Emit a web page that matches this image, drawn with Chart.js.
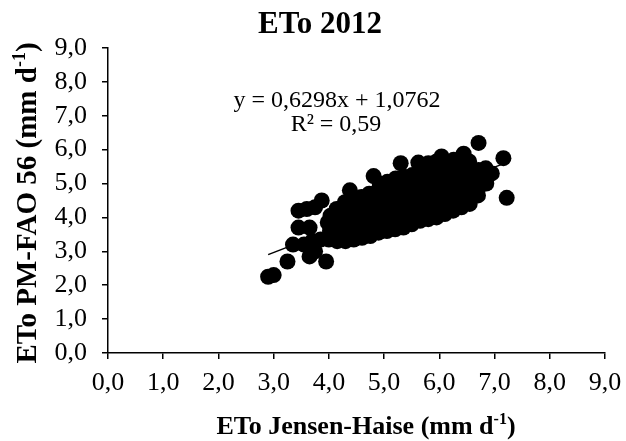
<!DOCTYPE html>
<html><head><meta charset="utf-8">
<script src="https://cdn.jsdelivr.net/npm/chart.js@4/dist/chart.umd.min.js"></script>
<style>html,body{margin:0;padding:0;background:#fff}</style></head>
<body>
<canvas id="c" width="626" height="441"></canvas>
<script>
// ETo Jensen-Haise (x) and ETo PM-FAO 56 (y)
const jhValues = [
 2.9,3.0,3.25,3.65,3.95,3.35,3.55,3.75,3.7,3.85,3.45,3.65,3.45,3.6,3.75,3.87,4.38,4.81,5.3,5.62,6.04,6.44,6.71,7.16,7.22,6.95,
 4.0,4.02,3.98,4.03,
 4.15,4.13,4.17,4.15,4.14,
 4.3,4.32,4.28,4.31,4.3,4.29,
 4.45,4.47,4.44,4.46,4.45,4.43,
 4.6,4.62,4.58,4.61,4.6,4.59,
 4.75,4.77,4.74,4.76,4.75,4.73,
 4.9,4.92,4.88,4.91,4.9,4.89,4.92,
 5.05,5.07,5.03,5.06,5.05,5.04,5.06,
 5.2,5.22,5.18,5.21,5.2,5.19,5.21,
 5.35,5.37,5.33,5.36,5.35,5.34,5.36,
 5.5,5.52,5.48,5.51,5.5,5.49,5.51,
 5.65,5.67,5.63,5.66,5.65,5.64,5.66,
 5.8,5.82,5.78,5.81,5.8,5.79,5.81,5.8,
 5.95,5.97,5.93,5.96,5.95,5.94,5.96,5.95,
 6.1,6.12,6.08,6.11,6.1,6.09,6.11,
 6.25,6.27,6.23,6.26,6.25,6.24,6.26,
 6.4,6.42,6.38,6.41,6.4,6.39,
 6.55,6.57,6.53,6.56,6.55,6.54,
 6.7,6.72,6.68,6.71,
 6.85,6.86,6.84
];
const pmValues = [
 2.25,2.3,2.7,2.85,2.7,3.2,3.2,3.0,3.3,3.35,3.7,3.7,4.2,4.25,4.3,4.5,4.8,5.22,5.6,5.62,5.8,5.88,6.2,5.75,4.58,5.3,
 3.35,3.6,3.85,4.05,
 3.3,3.55,3.8,4.05,4.25,
 3.3,3.55,3.8,4.05,4.3,4.45,
 3.35,3.6,3.85,4.1,4.35,4.55,
 3.4,3.65,3.9,4.15,4.4,4.6,
 3.45,3.7,3.95,4.2,4.45,4.7,
 3.55,3.8,4.05,4.3,4.55,4.8,5.0,
 3.6,3.85,4.1,4.35,4.6,4.85,5.05,
 3.65,3.9,4.15,4.4,4.65,4.9,5.15,
 3.7,3.95,4.2,4.45,4.7,4.95,5.2,
 3.8,4.05,4.3,4.55,4.8,5.05,5.25,
 3.9,4.15,4.4,4.65,4.9,5.15,5.35,
 3.95,4.2,4.45,4.7,4.95,5.2,5.45,5.6,
 4.0,4.25,4.5,4.75,5.0,5.25,5.45,5.65,
 4.1,4.35,4.6,4.85,5.1,5.35,5.6,
 4.2,4.45,4.7,4.95,5.2,5.45,5.7,
 4.3,4.55,4.8,5.05,5.3,5.55,
 4.4,4.65,4.9,5.15,5.4,5.65,
 4.65,4.9,5.15,5.4,
 5.0,5.25,5.45
];
const trendSlope = [0.6298];
const trendIntercept = [1.0762];
const trendRangeX = [2.9, 7.2];
const axisTicks = [0,1,2,3,4,5,6,7,8,9];
const titleText = 'ETo 2012';
const xTitle = ['ETo Jensen-Haise (mm d', '-1', ')'];
const yTitle = ['ETo PM-FAO 56 (mm d', '-1', ')'];
const eqLines = ['y = 0,6298x + 1,0762', 'R\u00B2 = 0,59'];

const points = jhValues.map((x,i)=>({x:x, y:pmValues[i]}));
const trend = trendRangeX.map(x=>({x:x, y:trendSlope[0]*x+trendIntercept[0]}));
const fmt = v => Number(v).toFixed(1).replace('.', ',');
const FF = '"Liberation Serif","Times New Roman",serif';

function renderSup(ctx, parts, size, supSize, cx, baseY){
  ctx.font = 'bold '+size+'px '+FF;
  const w0 = ctx.measureText(parts[0]).width;
  const w2 = ctx.measureText(parts[2]).width;
  ctx.font = 'bold '+supSize+'px '+FF;
  const w1 = ctx.measureText(parts[1]).width;
  let x = cx - (w0+w1+w2)/2;
  ctx.textAlign='left'; ctx.textBaseline='alphabetic';
  ctx.font = 'bold '+size+'px '+FF; ctx.fillText(parts[0], x, baseY); x+=w0;
  ctx.font = 'bold '+supSize+'px '+FF; ctx.fillText(parts[1], x, baseY - size*0.38); x+=w1;
  ctx.font = 'bold '+size+'px '+FF; ctx.fillText(parts[2], x, baseY);
}

const textPlugin = {
  id:'texts',
  afterDraw(chart){
    const ctx = chart.ctx;
    ctx.save();
    ctx.fillStyle='#000';
    ctx.textAlign='center'; ctx.textBaseline='alphabetic';
    ctx.font = 'bold 31px '+FF;
    ctx.fillText(titleText, 320, 33);
    ctx.font = '24px '+FF;
    ctx.fillText(eqLines[0], 337, 107);
    ctx.fillText(eqLines[1], 336, 131);
    renderSup(ctx, xTitle, 26, 16, 366, 434);
    ctx.translate(36, 203);
    ctx.rotate(-Math.PI/2);
    renderSup(ctx, yTitle, 29, 18, 0, 0);
    ctx.restore();
  }
};

const tickFont = {family: FF, size: 26};
new Chart(document.getElementById('c'), {
  type:'scatter',
  data:{datasets:[
    {type:'line', data:trend, borderColor:'#000', borderWidth:1.5, pointRadius:0, fill:false, order:0},
    {data:points, pointRadius:8, pointHoverRadius:8, backgroundColor:'#000', borderColor:'#000', borderWidth:0, order:1}
  ]},
  options:{
    responsive:false, animation:false, devicePixelRatio:1,
    layout:{padding:{top:48, right:21, left:0, bottom:0}},
    plugins:{legend:{display:false}, tooltip:{enabled:false}, title:{display:false}},
    scales:{
      x:{type:'linear', min:axisTicks[0], max:axisTicks[axisTicks.length-1],
         afterBuildTicks(s){ s.ticks = axisTicks.map(v=>({value:v})); },
         ticks:{callback:fmt, font:tickFont, color:'#000', padding:9, maxRotation:0, autoSkip:false},
         grid:{drawOnChartArea:false, drawTicks:true, tickLength:6, color:'#000', lineWidth:1.5},
         border:{color:'#000', width:1.5},
         afterFit(s){ s.height = 88; s.paddingRight = 0; s.paddingLeft = 0; }},
      y:{type:'linear', min:axisTicks[0], max:axisTicks[axisTicks.length-1],
         afterBuildTicks(s){ s.ticks = axisTicks.map(v=>({value:v})); },
         ticks:{callback:fmt, font:tickFont, color:'#000', padding:15, autoSkip:false},
         grid:{drawOnChartArea:false, drawTicks:true, tickLength:6, color:'#000', lineWidth:1.5},
         border:{color:'#000', width:1.5},
         afterFit(s){ s.width = 108; s.paddingTop = 0; s.paddingBottom = 0; }}
    }
  },
  plugins:[textPlugin]
});
</script>
</body></html>
